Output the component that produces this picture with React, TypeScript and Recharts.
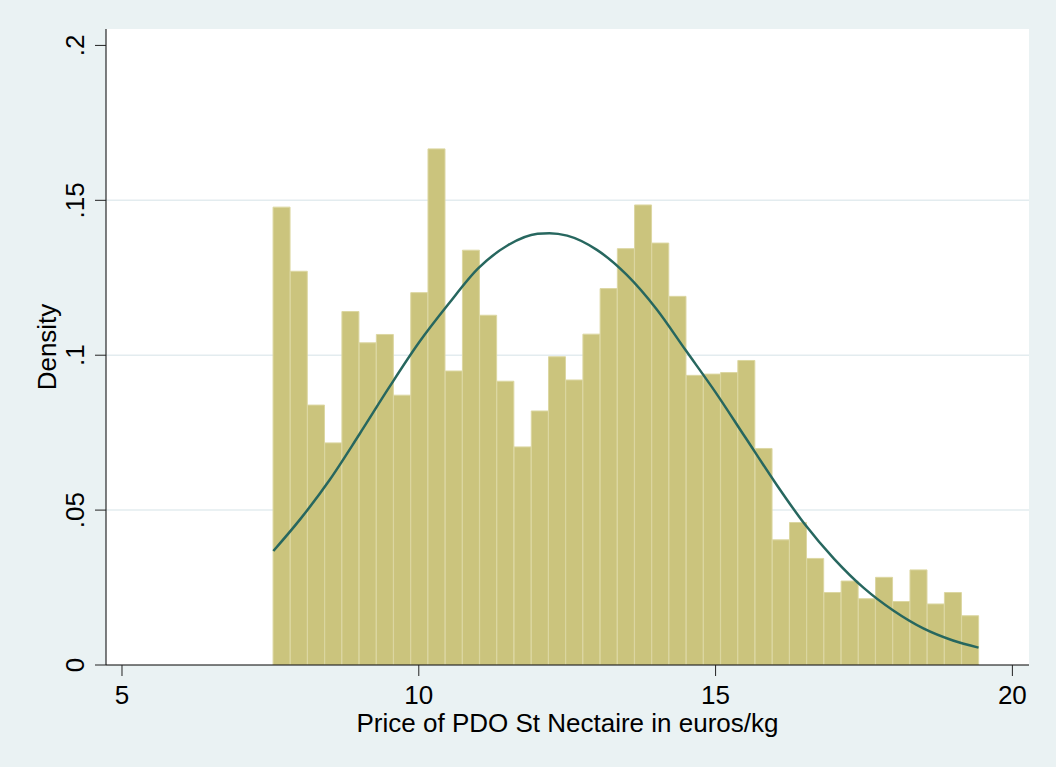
import React from 'react';
import { ComposedChart, Bar, Line, XAxis, YAxis, CartesianGrid, Label } from 'recharts';

// histogram bins (centre of each bin, euros/kg)
const binCenters = [
  7.69, 7.98, 8.27, 8.56, 8.85, 9.14, 9.43, 9.72, 10.01, 10.3, 10.59, 10.88, 11.17, 11.46,
  11.75, 12.04, 12.33, 12.62, 12.91, 13.2, 13.49, 13.78, 14.07, 14.36, 14.65, 14.94, 15.23,
  15.52, 15.81, 16.1, 16.39, 16.68, 16.97, 17.26, 17.55, 17.84, 18.13, 18.42, 18.71, 19.0, 19.29,
];
const binDensity = [
  0.1478, 0.1271, 0.0839, 0.0717, 0.1141, 0.104, 0.1067, 0.0871, 0.1202, 0.1666, 0.0949,
  0.1339, 0.1129, 0.0916, 0.0704, 0.082, 0.0995, 0.092, 0.1068, 0.1215, 0.1344, 0.1485,
  0.1362, 0.119, 0.0935, 0.0939, 0.0944, 0.0983, 0.0699, 0.0404, 0.046, 0.0344, 0.0234,
  0.0271, 0.0214, 0.0283, 0.0205, 0.0307, 0.0197, 0.0234, 0.0159,
];

// normal density overlay
const curveX = [
  7.55, 8.0, 8.5, 9.0, 9.5, 10.0, 10.5, 11.0, 11.5, 12.0, 12.2, 12.5, 13.0, 13.5, 14.0,
  14.5, 15.0, 15.5, 16.0, 16.5, 17.0, 17.5, 18.0, 18.5, 19.0, 19.43,
];
const curveY = [
  0.0368, 0.047, 0.0598, 0.0745, 0.0896, 0.104, 0.1165, 0.128, 0.1355, 0.1392, 0.1394,
  0.1386, 0.134, 0.126, 0.115, 0.1015, 0.088, 0.0735, 0.059, 0.0455, 0.0342, 0.0248,
  0.0175, 0.0118, 0.0079, 0.0056,
];

const xTicks = [5, 10, 15, 20];
const yTicks = [0, 0.05, 0.1, 0.15, 0.2];
const yTickLabels = ['0', '.05', '.1', '.15', '.2'];
const gridValues = [0.05, 0.1, 0.15];

const histData = binCenters.map((x, i) => ({ x, density: binDensity[i] }));
const curveData = curveX.map((x, i) => ({ cx: x, normal: curveY[i] }));

const X_DOMAIN = [4.7306, 20.28];
const FONT = "Arial, 'Liberation Sans', Helvetica, sans-serif";
const FS = 26;

const XTick = (props: any) => {
  const { x, payload } = props;
  return (
    <text x={x} y={704} textAnchor="middle" fontFamily={FONT} fontSize={FS} fill="#000">
      {payload.value}
    </text>
  );
};

const YTick = (props: any) => {
  const { y, payload } = props;
  const idx = yTicks.indexOf(payload.value);
  const bx = 84;
  return (
    <text
      x={bx}
      y={y}
      textAnchor="middle"
      transform={`rotate(-90, ${bx}, ${y})`}
      fontFamily={FONT}
      fontSize={FS}
      fill="#000"
    >
      {idx >= 0 ? yTickLabels[idx] : payload.value}
    </text>
  );
};

const XTitle = (props: any) => {
  const { viewBox } = props;
  return (
    <text
      x={viewBox.x + viewBox.width / 2}
      y={732}
      textAnchor="middle"
      fontFamily={FONT}
      fontSize={FS}
      fill="#000"
    >
      Price of PDO St Nectaire in euros/kg
    </text>
  );
};

const YTitle = (props: any) => {
  const { viewBox } = props;
  const cy = viewBox.y + viewBox.height / 2;
  const bx = 56;
  return (
    <text
      x={bx}
      y={cy}
      textAnchor="middle"
      transform={`rotate(-90, ${bx}, ${cy})`}
      fontFamily={FONT}
      fontSize={FS}
      fill="#000"
    >
      Density
    </text>
  );
};

export default function App() {
  return (
    <div style={{ position: 'absolute', left: 0, top: 0, width: 1056, height: 767, background: '#EAF2F3' }}>
      <ComposedChart
        width={1056}
        height={767}
        data={histData}
        margin={{ top: 29, right: 27, bottom: 0, left: 0 }}
        barCategoryGap={0}
        barGap={0}
      >
        <CartesianGrid
          vertical={false}
          horizontalValues={gridValues}
          stroke="#E3ECEF"
          strokeWidth={1.5}
          fill="#FFFFFF"
        />
        <XAxis
          dataKey="x"
          type="number"
          domain={X_DOMAIN}
          ticks={xTicks}
          allowDataOverflow
          height={102}
          tickSize={11}
          stroke="#000"
          tickLine={{ stroke: '#222' }}
          tick={<XTick />}
        >
          <Label content={<XTitle />} />
        </XAxis>
        <XAxis xAxisId="curve" dataKey="cx" type="number" domain={X_DOMAIN} allowDataOverflow hide />
        <YAxis
          type="number"
          domain={[0, 0.2053]}
          ticks={yTicks}
          allowDataOverflow
          width={106}
          tickSize={11}
          stroke="#000"
          tickLine={{ stroke: '#222' }}
          tick={<YTick />}
        >
          <Label content={<YTitle />} />
        </YAxis>
        <Bar
          dataKey="density"
          fill="#CBC47D"
          stroke="#DCD7A2"
          strokeWidth={1}
          isAnimationActive={false}
        />
        <Line
          xAxisId="curve"
          data={curveData}
          dataKey="normal"
          type="monotone"
          stroke="#27675F"
          strokeWidth={2.5}
          dot={false}
          activeDot={false}
          isAnimationActive={false}
        />
      </ComposedChart>
    </div>
  );
}
